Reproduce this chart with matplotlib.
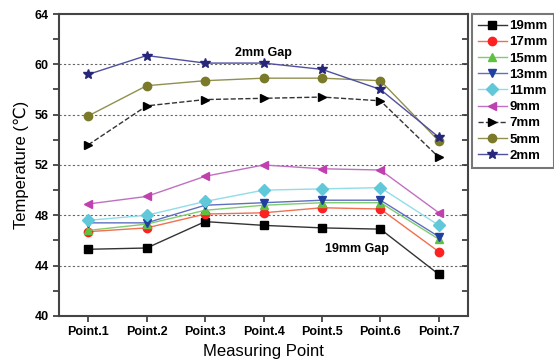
import numpy as np
import matplotlib
matplotlib.use("Agg")
import matplotlib.pyplot as plt
from matplotlib.ticker import MultipleLocator

plt.rcParams['font.family'] = ['Liberation Sans', 'DejaVu Sans']

points = ["Point.1", "Point.2", "Point.3", "Point.4", "Point.5", "Point.6", "Point.7"]

gap_19mm = [45.3, 45.4, 47.5, 47.2, 47.0, 46.9, 43.3]
gap_17mm = [46.7, 47.0, 48.1, 48.2, 48.6, 48.5, 45.1]
gap_15mm = [46.8, 47.3, 48.4, 48.8, 49.0, 49.0, 46.1]
gap_13mm = [47.4, 47.4, 48.8, 49.0, 49.2, 49.2, 46.3]
gap_11mm = [47.6, 48.0, 49.1, 50.0, 50.1, 50.2, 47.2]
gap_9mm = [48.9, 49.5, 51.1, 52.0, 51.7, 51.6, 48.2]
gap_7mm = [53.6, 56.7, 57.2, 57.3, 57.4, 57.1, 52.6]
gap_5mm = [55.9, 58.3, 58.7, 58.9, 58.9, 58.7, 53.9]
gap_2mm = [59.2, 60.7, 60.1, 60.1, 59.6, 58.0, 54.2]

labels = ["19mm", "17mm", "15mm", "13mm", "11mm", "9mm", "7mm", "5mm", "2mm"]
series = [gap_19mm, gap_17mm, gap_15mm, gap_13mm, gap_11mm, gap_9mm, gap_7mm, gap_5mm, gap_2mm]
# (line colour, marker colour, marker, linestyle)
styles = [
    ("#333333", "black", "s", "-"),
    ("#f07050", "#ff2020", "o", "-"),
    ("#80cc70", "#60c040", "^", "-"),
    ("#6070c0", "#2040a0", "v", "-"),
    ("#90dde8", "#60c8d8", "D", "-"),
    ("#c070c0", "#c040b0", "<", "-"),
    ("#333333", "black", ">", "--"),
    ("#909050", "#7a7a2a", "o", "-"),
    ("#5050a0", "#26267a", "*", "-"),
]

x = np.arange(1, len(points) + 1)

fig = plt.figure(figsize=(5.54, 3.64), dpi=100)
ax = fig.add_axes([0.1065, 0.132, 0.7385, 0.8295])

for vals, lab, (lc, mc, mk, ls) in zip(series, labels, styles):
    ms = 7 if mk == "*" else 6
    ax.plot(x, vals, color=lc, linestyle=ls, linewidth=1.0, marker=mk,
            markersize=ms, markerfacecolor=mc, markeredgecolor=mc, label=lab)

for yv in [44, 48, 52, 56, 60]:
    ax.axhline(yv, color="#666666", linestyle=(0, (2, 2)), linewidth=0.8, zorder=0)

ax.set_xlim(0.5, 7.5)
ax.set_ylim(40, 64)
ax.set_xticks(x)
ax.set_xticklabels(points, fontsize=9, fontweight="bold")
ax.yaxis.set_major_locator(MultipleLocator(4))
ax.yaxis.set_minor_locator(MultipleLocator(2))
for t in ax.get_yticklabels():
    t.set_fontweight("bold")
    t.set_fontsize(9)
ax.tick_params(axis="y", which="both", direction="out", length=4, width=1.2,
               colors="#333333", labelcolor="black")
ax.tick_params(axis="x", direction="out", length=4, width=1.2, colors="#333333",
               labelcolor="black")
for s in ax.spines.values():
    s.set_linewidth(1.5)
    s.set_color("#444444")

# inward ticks on the right spine
sec = ax.secondary_yaxis("right")
sec.yaxis.set_major_locator(MultipleLocator(2))
sec.tick_params(direction="in", length=4, width=1.2, colors="#333333", labelright=False)
sec.spines["right"].set_visible(False)

ax.set_xlabel("Measuring Point", fontsize=12)
ax.set_ylabel("Temperature (\u2103)", fontsize=12)

ax.text(4.0, 60.9, "2mm Gap", fontsize=9, fontweight="bold", ha="center", va="center")
ax.text(5.6, 45.3, "19mm Gap", fontsize=9, fontweight="bold", ha="center", va="center")

leg = ax.legend(loc="upper left", bbox_to_anchor=(1.0085, 1.0),
                prop={"weight": "bold", "size": 9.5}, frameon=True, fancybox=False,
                handlelength=2.2, handletextpad=0.2, labelspacing=0.3,
                borderaxespad=0.0, borderpad=0.45)
leg.get_frame().set_edgecolor("#555555")
leg.get_frame().set_linewidth(1.5)

fig.savefig("out.png", dpi=100)
